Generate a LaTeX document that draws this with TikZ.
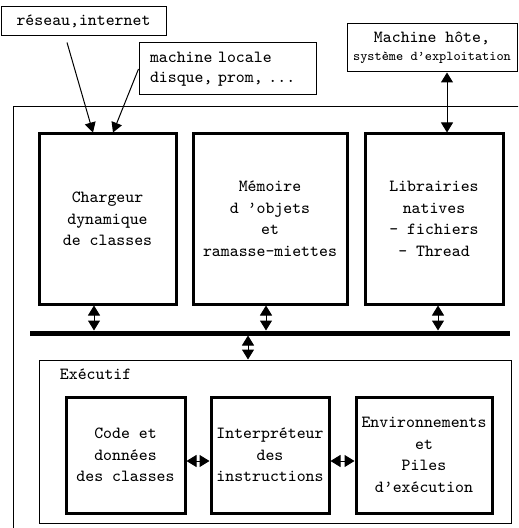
\documentclass[tikz,border=0pt]{standalone}
\usetikzlibrary{arrows.meta,positioning}
\begin{document}
\begin{tikzpicture}[x=0.5pt,y=-0.5pt,font=\ttfamily\fontsize{8.5}{10}\selectfont]
    \tikzset {
        thin box/.style = {draw, line width=0.5pt, inner sep=0pt},
        big box/.style = {draw, line width=1.5pt, inner sep=0pt, align=center,
            font=\ttfamily\fontsize{8.5}{10.75}\selectfont},
        link/.style = {line width=0.5pt, -{Triangle[length=5pt,width=5.5pt]}},
        both/.style = {line width=0.5pt,
            {Triangle[length=5pt,width=6pt]}-{Triangle[length=5pt,width=6pt]}},
        bus/.style = {line width=2.5pt}
    }
    \clip (0,0) rectangle (518,528);
    % outer frame, runs past the picture
    \draw[line width=0.5pt] (13,107) rectangle (530,540);
    % sources
    \node[thin box, minimum width=82.5pt, minimum height=14.5pt] (reseau) at (83.5,21.5) {réseau,internet};
    \node[thin box, text width=77.5pt, inner xsep=5.5pt, minimum height=26pt, align=left] (locale) at (227.5,69)
        {machine locale\\disque, prom, ...};
    \node[thin box, minimum width=85pt, minimum height=24pt, align=center] (hote) at (432,48)
        {Machine hôte,\\[-1pt]{\fontsize{6.75}{7}\selectfont système d’exploitation}};
    % top row
    \node[big box, minimum width=68.5pt, minimum height=85pt] (charg) at (107.5,219)
        {Chargeur\\dynamique\\de classes};
    \node[big box, minimum width=77pt, minimum height=85pt] (memo) at (270,219)
        {Mémoire\\d ’objets\\et\\ramasse-miettes};
    \node[big box, minimum width=69pt, minimum height=85pt] (natv) at (434,219)
        {Librairies\\natives\\- fichiers\\- Thread};
    % bus
    \coordinate (busL) at (30,333);
    \coordinate (busR) at (510,333);
    \draw[bus] (busL) -- (busR);
    % executif
    \node[thin box, minimum width=236pt, minimum height=81.5pt] (exec) at (275,441.5) {};
    \node[anchor=west, inner sep=0pt] (execlbl) at ([xshift=10.5pt,yshift=-7.5pt]exec.north west) {Exécutif};
    \node[big box, minimum width=59.5pt, minimum height=58pt] (code) at (125.5,455)
        {Code et\\données\\des classes};
    \node[big box, minimum width=59pt, minimum height=58pt] (interp) at (270,455)
        {Interpréteur\\des\\instructions};
    \node[big box, minimum width=68pt, minimum height=58pt] (envt) at (424,455)
        {Environnements\\et\\Piles\\d’exécution};
    % connectors
    \draw[link] ([xshift=-8.25pt,yshift=-3pt]reseau.south) -- ([xshift=-7.25pt]charg.north);
    \draw[link] (locale.west) -- ([xshift=2.75pt]charg.north);
    \draw[both] ([xshift=7.5pt]hote.south) -- ([xshift=7.5pt]hote.south |- natv.north);
    \draw[both] ([xshift=-6.75pt]charg.south) -- ([xshift=-6.75pt,yshift=1.25pt]charg.south |- busL);
    \draw[both] ([xshift=-2pt]memo.south) -- ([xshift=-2pt,yshift=1.25pt]memo.south |- busL);
    \draw[both] ([xshift=2pt]natv.south) -- ([xshift=2pt,yshift=1.25pt]natv.south |- busL);
    \draw[both] ([xshift=-13.5pt,yshift=-1.25pt]exec.north |- busL) -- ([xshift=-13.5pt]exec.north);
    \draw[both] ([yshift=-3pt]code.east) -- ([yshift=-3pt]interp.west);
    \draw[both] ([yshift=-3pt]interp.east) -- ([yshift=-3pt]envt.west);
\end{tikzpicture}
\end{document}
